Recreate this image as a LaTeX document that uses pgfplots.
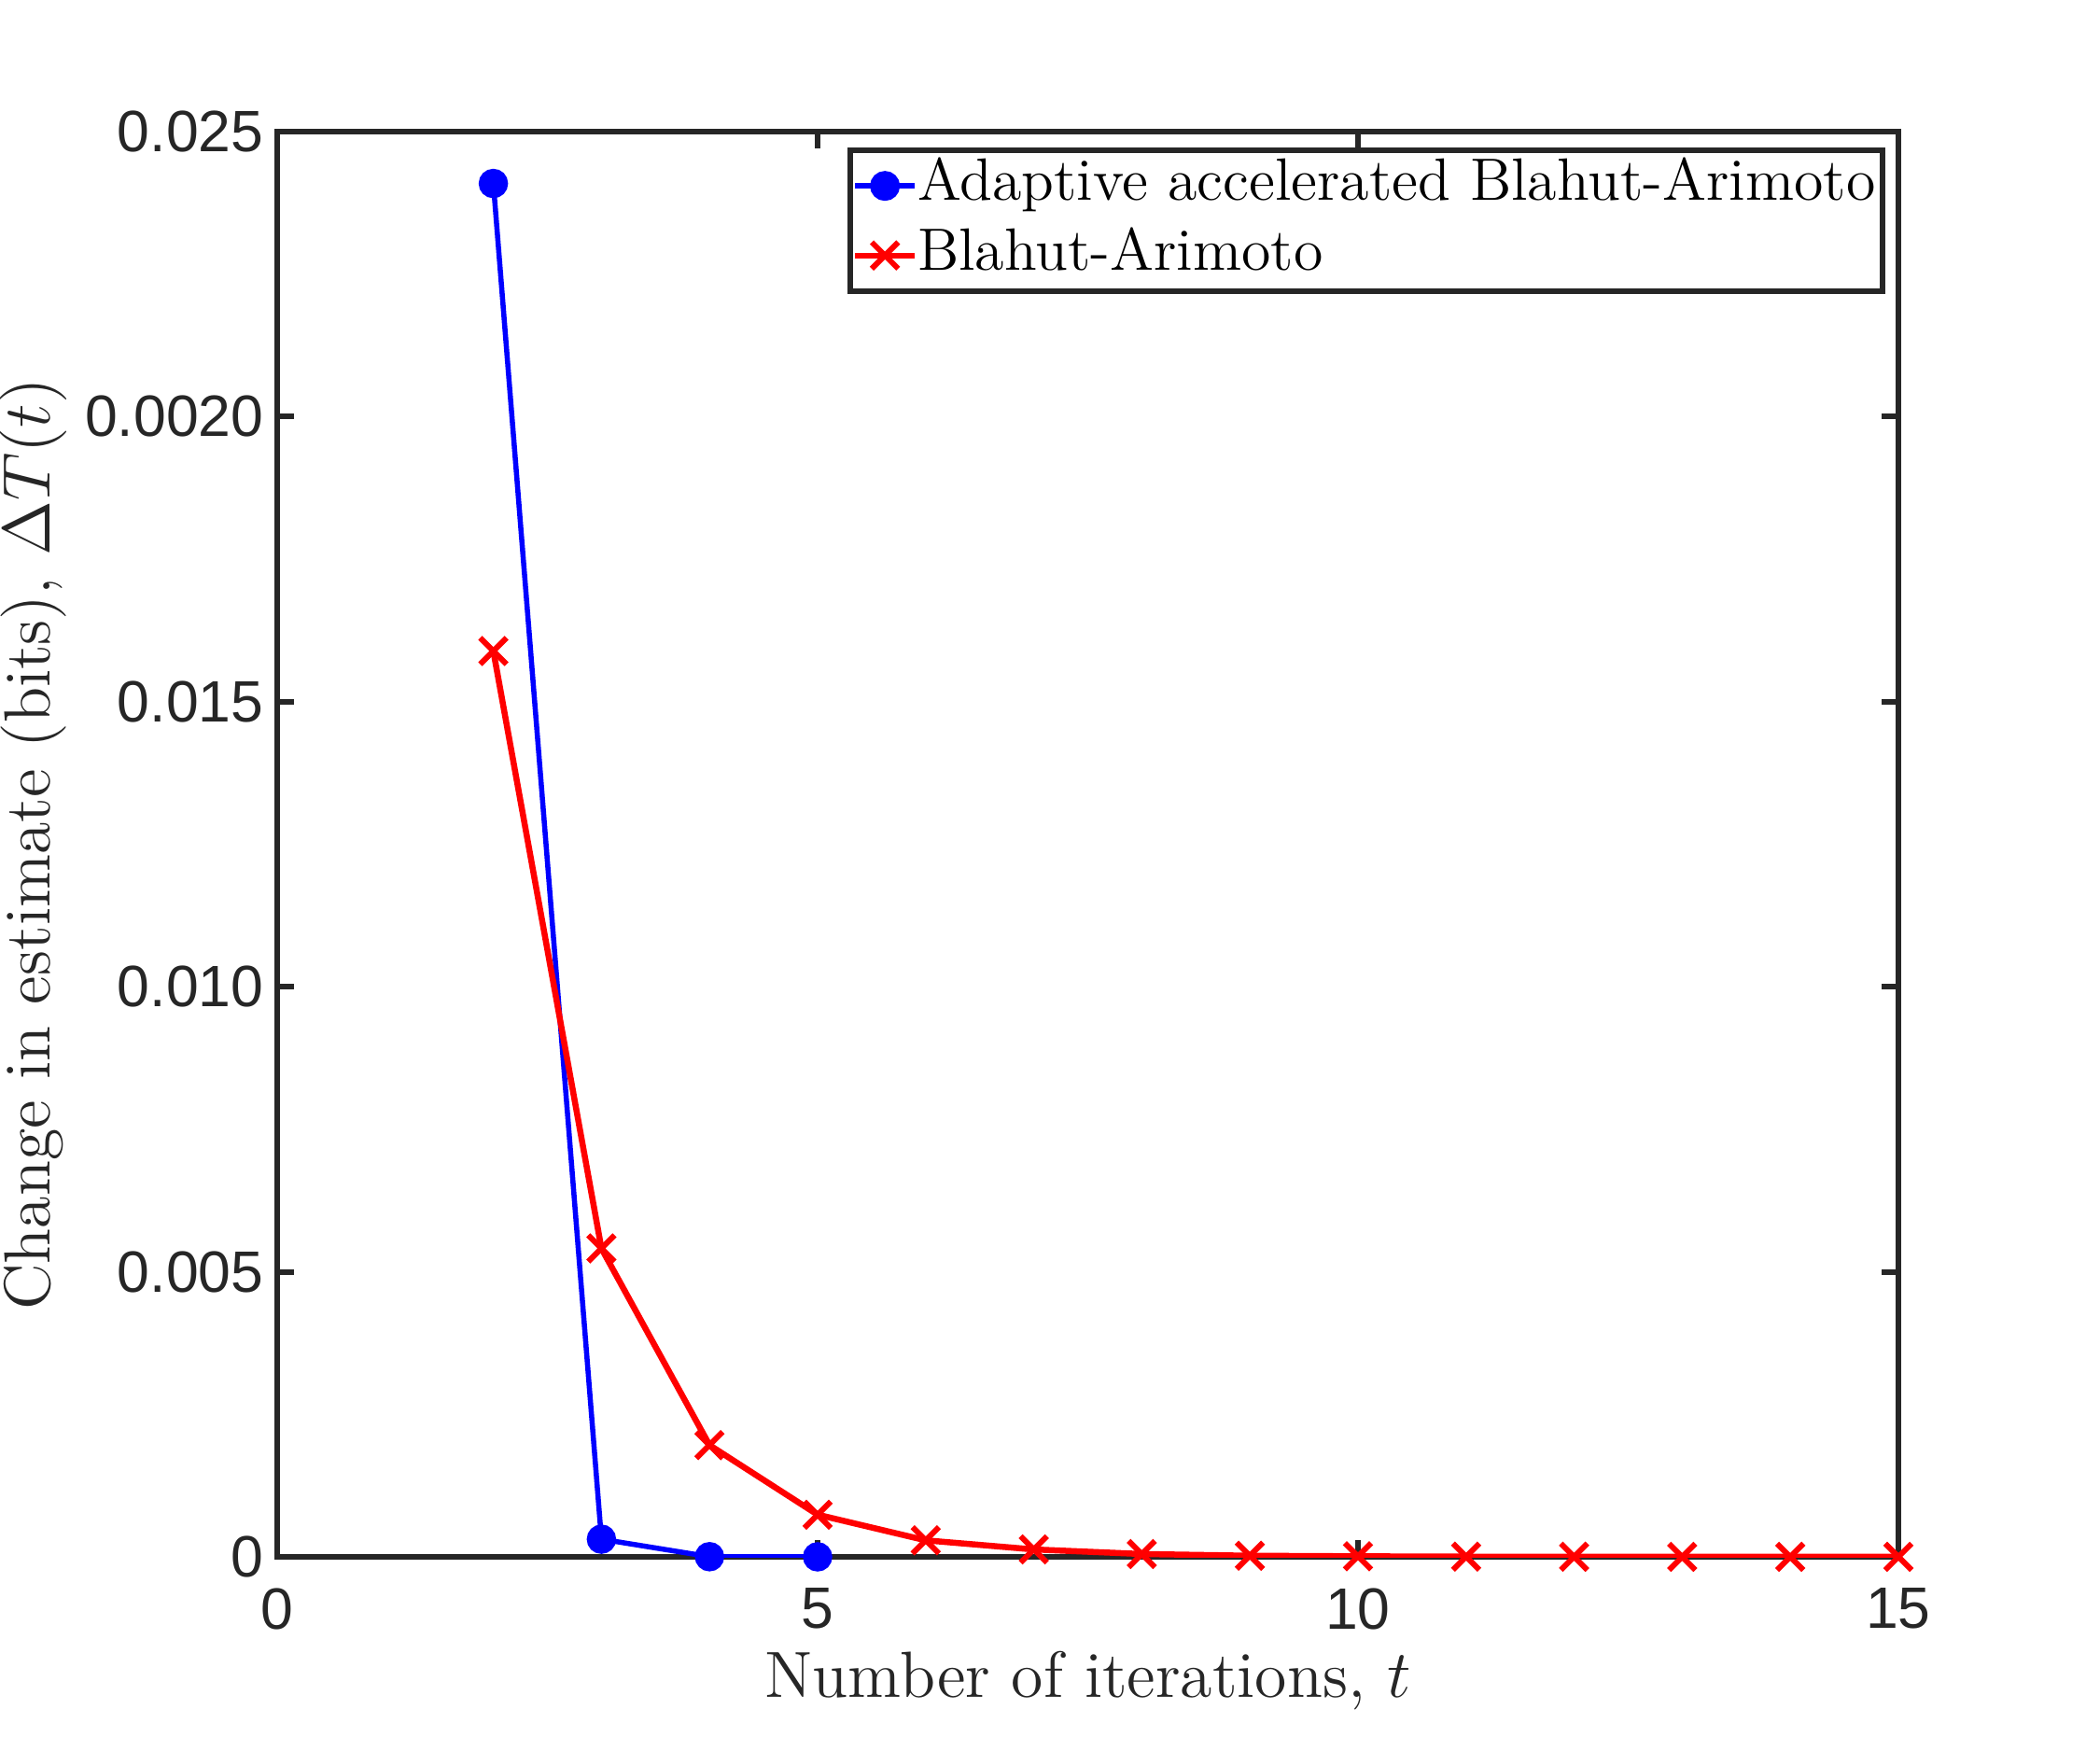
\documentclass[border=0pt]{standalone}
\usepackage{fontspec}
\usepackage{pgfplots}
\pgfplotsset{compat=1.18}
\newfontfamily\ticksf{Liberation Sans}
\definecolor{axgray}{rgb}{0.15,0.15,0.15}

% Change in the capacity estimate per iteration
\pgfplotstableread{
t   dT
2   0.02409
3   0.00031
4   0.000003
5   0.0000005
}\adaptiveba
\pgfplotstableread{
t   dT
2   0.01589
3   0.00541
4   0.00196
5   0.00074
6   0.00029
7   0.00013
8   0.00005
9   0.00002
10  0.00001
11  0.000004
12  0.000002
13  0.000001
14  0.0000005
15  0.0000002
}\plainba

\begin{document}
\begin{tikzpicture}
\useasboundingbox (-59.4pt,-41.4pt) rectangle (390.6pt,333.6pt);
\begin{axis}[
  at={(0pt,0pt)}, anchor=south west,
  scale only axis, width=347.4pt, height=305.4pt,
  xmin=0, xmax=15, ymin=0, ymax=0.025,
  xtick={0,5,10,15}, xticklabels={0,5,10,15},
  ytick={0,0.005,0.01,0.015,0.02,0.025},
  yticklabels={0,0.005,0.010,0.015,0.0020,0.025},
  scaled y ticks=false,
  tick align=inside, major tick length=3.6pt,
  axis line style={draw=axgray, line width=1.2pt},
  every tick/.style={draw=axgray, line width=1.2pt},
  tick label style={font=\ticksf\fontsize{12.5}{14}\selectfont, text=axgray},
  xticklabel style={yshift=-3.2pt},
  yticklabel style={xshift=0.6pt},
  xlabel={Number of iterations, $t$},
  ylabel={Change in estimate (bits), $\Delta T(t)$},
  label style={font=\fontsize{14}{16}\selectfont, text=axgray},
  xlabel style={at={(rel axis cs:0.5,-0.0871)}, anchor=center},
  ylabel style={at={(rel axis cs:-0.1503,0.5)}, anchor=center},
  legend cell align=left,
  legend style={
    at={(rel axis cs:0.9919,0.9889)}, anchor=north east,
    draw=axgray, line width=1.2pt,
    font=\fontsize{12.8}{15}\selectfont,
    inner xsep=0.5pt, inner ysep=0.5pt,
    row sep=0.6pt,
    nodes={inner sep=1pt, text height=9.3pt, text depth=3pt},
    /tikz/every even column/.append style={column sep=0pt},
    /tikz/every odd column/.append style={column sep=-1pt},
  },
  legend image code/.code={
    \draw[mark repeat=2, mark phase=2, line width=1.2pt]
      plot coordinates {(0pt,0pt) (6.4pt,0pt) (12.8pt,0pt)};
  },
]
\addplot[color=blue, line width=1.1pt, mark=*, mark size=2.6pt,
  mark options={solid, fill=blue}] table[x=t, y=dT] {\adaptiveba};
\addlegendentry{Adaptive accelerated Blahut-Arimoto}
\addplot[color=red, line width=1.3pt, mark=x, mark size=4pt,
  mark options={solid, line width=1.2pt}] table[x=t, y=dT] {\plainba};
\addlegendentry{Blahut-Arimoto}
\end{axis}
\end{tikzpicture}
\end{document}
